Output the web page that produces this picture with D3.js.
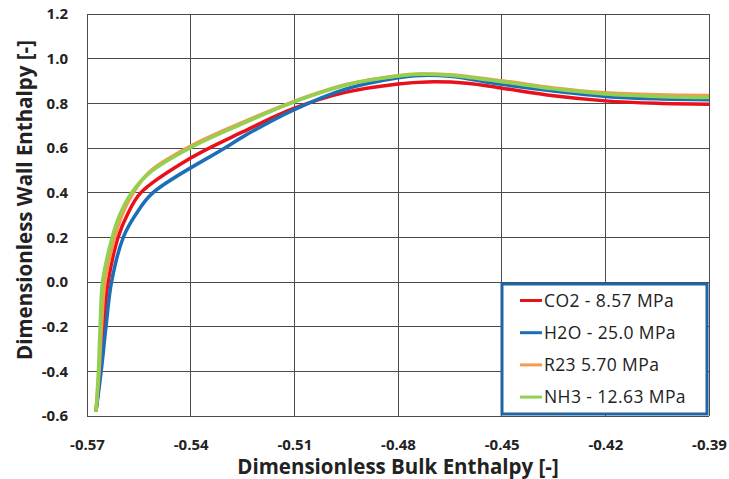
<!DOCTYPE html>
<html>
<head>
<meta charset="utf-8">
<script src="https://cdn.jsdelivr.net/npm/d3@7"></script>
<style>
  body { margin: 0; background: #fff; }
  svg { display: block; font-family: "Open Sans", "Liberation Sans", sans-serif; }
</style>
</head>
<body>
<svg id="chart" width="729" height="479"></svg>
<script>
// values
var seriesNames = ["CO2 - 8.57 MPa", "H2O - 25.0 MPa", "R23 5.70 MPa", "NH3 - 12.63 MPa"];
var seriesColors = ["#e8101a", "#1b6fb8", "#f59a4e", "#92d050"];

var co2X = [-0.5674, -0.5662, -0.5652, -0.5639, -0.5610, -0.5583, -0.5544, -0.5400, -0.5248, -0.5100, -0.4950, -0.4800, -0.4716, -0.4600, -0.4500, -0.4350, -0.4200, -0.4050, -0.3900];
var co2Y = [-0.58, -0.40, -0.20, 0.00, 0.20, 0.302, 0.40, 0.555, 0.673, 0.778, 0.850, 0.887, 0.896, 0.890, 0.868, 0.834, 0.811, 0.800, 0.796];

var h2oX = [-0.5674, -0.5659, -0.5645, -0.5629, -0.5595, -0.5559, -0.5509, -0.5301, -0.5248, -0.5100, -0.4950, -0.4800, -0.4750, -0.4650, -0.4500, -0.4350, -0.4200, -0.4050, -0.3900];
var h2oY = [-0.58, -0.40, -0.20, 0.00, 0.20, 0.302, 0.40, 0.60, 0.651, 0.772, 0.865, 0.915, 0.924, 0.921, 0.885, 0.855, 0.831, 0.820, 0.816];

var r23X = [-0.5674, -0.5665, -0.5658, -0.5648, -0.5620, -0.5598, -0.5566, -0.5518, -0.5402, -0.5248, -0.5100, -0.4950, -0.4800, -0.4736, -0.4650, -0.4500, -0.4350, -0.4200, -0.4050, -0.3900];
var r23Y = [-0.58, -0.40, -0.20, 0.00, 0.20, 0.302, 0.40, 0.495, 0.607, 0.716, 0.809, 0.884, 0.924, 0.931, 0.928, 0.901, 0.869, 0.847, 0.838, 0.835];

var nh3X = [-0.5674, -0.5667, -0.5662, -0.5655, -0.5627, -0.5605, -0.5571, -0.5518, -0.5402, -0.5248, -0.5100, -0.4950, -0.4800, -0.4736, -0.4650, -0.4500, -0.4350, -0.4200, -0.4050, -0.3900];
var nh3Y = [-0.58, -0.40, -0.20, 0.00, 0.20, 0.302, 0.40, 0.49, 0.600, 0.710, 0.807, 0.882, 0.922, 0.930, 0.926, 0.897, 0.865, 0.842, 0.831, 0.826];

var xTicks = [-0.57, -0.54, -0.51, -0.48, -0.45, -0.42, -0.39];
var yTicks = [-0.6, -0.4, -0.2, 0.0, 0.2, 0.4, 0.6, 0.8, 1.0, 1.2];

var seriesX = [co2X, h2oX, r23X, nh3X];
var seriesY = [co2Y, h2oY, r23Y, nh3Y];

var mLeft = 87, mRight = 709, mTop = 14, mBottom = 416;
var svg = d3.select("#chart");

var x = d3.scaleLinear().domain([-0.57, -0.39]).range([mLeft, mRight]);
var y = d3.scaleLinear().domain([-0.6, 1.2]).range([mBottom, mTop]);

function fmt(p) {
	return function(v) { return v.toFixed(p); };
}

// grid
var grid = svg.append("g").attr("stroke", "#4a4a4a").attr("stroke-width", 1).attr("shape-rendering", "crispEdges");
xTicks.forEach(function(t) {
	grid.append("line").attr("x1", x(t)).attr("x2", x(t)).attr("y1", mTop).attr("y2", mBottom);
});
yTicks.forEach(function(t) {
	grid.append("line").attr("x1", mLeft).attr("x2", mRight).attr("y1", y(t)).attr("y2", y(t));
});

// axes (labels only)
var xAxis = svg.append("g").attr("transform", "translate(0," + mBottom + ")")
	.call(d3.axisBottom(x).tickValues(xTicks).tickSize(0).tickPadding(23).tickFormat(fmt(2)));
var yAxis = svg.append("g").attr("transform", "translate(" + mLeft + ",0)")
	.call(d3.axisLeft(y).tickValues(yTicks).tickSize(0).tickPadding(19).tickFormat(fmt(1)));
[xAxis, yAxis].forEach(function(a) {
	a.select(".domain").remove();
	a.selectAll("text").attr("font-size", 15).attr("font-weight", "bold").attr("fill", "#222")
		.attr("font-family", "\"Open Sans\", sans-serif");
});

// lines
var line = d3.line().x(function(d) { return x(d[0]); }).y(function(d) { return y(d[1]); })
	.curve(d3.curveCatmullRom.alpha(0.5));
var lines = svg.append("g");
for (var i = 0; i < seriesX.length; i++) {
	var pts = seriesX[i].map(function(v, k) { return [v, seriesY[i][k]]; });
	lines.append("path").attr("d", line(pts)).attr("fill", "none")
		.attr("stroke", seriesColors[i]).attr("stroke-width", 3.5).attr("stroke-linejoin", "round");
}

// axis titles
svg.append("text").attr("x", 398).attr("y", 474).attr("text-anchor", "middle")
	.attr("font-size", 20.5).attr("font-weight", "bold").attr("fill", "#222")
	.text("Dimensionless Bulk Enthalpy [-]");
svg.append("text").attr("transform", "translate(32,200) rotate(-90)")
	.attr("text-anchor", "middle").attr("font-size", 20.5).attr("font-weight", "bold").attr("fill", "#222")
	.text("Dimensionless Wall Enthalpy [-]");

// legend
var lg = svg.append("g");
lg.append("rect").attr("x", 502).attr("y", 284).attr("width", 205).attr("height", 130)
	.attr("fill", "#fff").attr("stroke", "#1f64a3").attr("stroke-width", 3);
seriesNames.forEach(function(name, k) {
	var ly = 300.5 + k * 32.2;
	lg.append("line").attr("x1", 520).attr("x2", 542).attr("y1", ly).attr("y2", ly)
		.attr("stroke", seriesColors[k]).attr("stroke-width", 3);
	lg.append("text").attr("x", 544).attr("y", ly + 6).attr("font-size", 17.5)
		.attr("letter-spacing", 0.4).attr("fill", "#222").text(name);
});
</script>
</body>
</html>
